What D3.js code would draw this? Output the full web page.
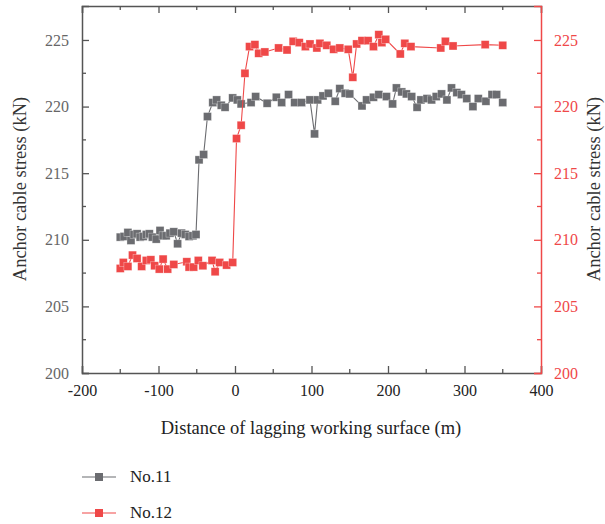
<!DOCTYPE html>
<html>
<head>
<meta charset="utf-8">
<script src="https://cdn.jsdelivr.net/npm/d3@7"></script>
<style>
  body { margin: 0; background: #fff; }
  text { font-family: "Liberation Serif", "DejaVu Serif", serif; }
</style>
</head>
<body>
<svg id="chart" width="605" height="524"></svg>
<script>
// No.11 (left axis)
const n11X = [-150,-145,-140,-136,-132,-128,-124,-120,-116,-112,-108,-103,-98,-94,-90,-85,-80,-75,-70,-65,-60,-55,-51,
  -47,-41,-36,-29,-24,-18,-13,-3,3,8,21,27,42,54,61,70,78,87,98,104,108,115,122,131,137,144,150,
  166,172,181,188,198,206,211,218,224,231,238,243,251,257,263,270,277,283,290,296,303,311,318,328,336,342,350];
const n11Y = [210.2,210.25,210.55,209.95,210.4,210.45,210.2,210.25,210.4,210.45,210.2,210.05,210.7,210.3,210.3,210.5,210.6,209.7,210.5,210.4,210.25,210.3,210.4,
  216.0,216.4,219.25,220.3,220.5,220.1,219.95,220.65,220.5,220.2,220.3,220.75,220.25,220.7,220.3,220.9,220.3,220.3,220.5,217.95,220.5,220.8,221.0,220.4,221.35,221.0,220.95,
  220.05,220.5,220.7,220.9,220.75,220.2,221.4,221.1,220.95,220.75,219.95,220.5,220.6,220.5,220.75,220.95,220.5,221.4,221.05,220.9,220.6,220.0,220.6,220.4,220.9,220.9,220.3];

// No.12 (right axis)
const n12X = [-150,-146,-140,-134,-128,-122,-116,-110,-105,-99,-94,-88,-80,-63,-60,-54,-48,-42,-30,-26,-20,-11,-3,
  2,8,13,19,26,31,39,57,68,76,84,92,98,107,111,120,129,137,148,154,159,166,174,181,188,192,197,216,222,230,269,275,285,327,350];
const n12Y = [207.85,208.3,208.0,208.85,208.6,208.0,208.45,208.5,208.05,207.8,208.55,207.8,208.15,208.35,207.95,207.95,208.45,208.05,208.45,207.6,208.3,208.1,208.3,
  217.6,218.6,222.5,224.5,224.65,224.0,224.1,224.4,224.25,224.9,224.8,224.5,224.7,224.4,224.75,224.6,224.3,224.4,224.3,222.2,224.7,224.95,224.95,224.5,225.4,224.8,225.05,223.95,224.75,224.5,224.4,224.9,224.55,224.65,224.6];

const xTicks = [-200,-100,0,100,200,300,400];
const yTicks = [200,205,210,215,220,225];
const seriesNames = ["No.11","No.12"];

const gray = "#6b6c70", red = "#ef4848", axisGray = "#555";
const serif = "'Liberation Serif', 'DejaVu Serif', serif";
const pLeft = 82, pRight = 541, pTop = 6, pBottom = 373;

const svg = d3.select("#chart");
const x = d3.scaleLinear().domain([-200,400]).range([pLeft,pRight]);
const yL = d3.scaleLinear().domain([200,227.55]).range([pBottom,pTop]);
const yR = d3.scaleLinear().domain([200,227.55]).range([pBottom,pTop]);

const minorX = d3.range(-150,400,100);
const minorY = d3.range(202.5,227.5,5);
const fmt = d => String(d);

// bottom axis
const gB = svg.append("g").attr("transform","translate(0,"+pBottom+")");
gB.call(d3.axisBottom(x).tickValues(xTicks).tickSize(-7).tickPadding(12).tickFormat(fmt));
gB.append("g").selectAll("line").data(minorX).enter().append("line")
  .attr("x1",d=>x(d)).attr("x2",d=>x(d)).attr("y1",0).attr("y2",-4);
// top axis
const gT = svg.append("g").attr("transform","translate(0,"+pTop+")");
gT.call(d3.axisTop(x).tickValues(xTicks).tickSize(-7).tickFormat(""));
gT.append("g").selectAll("line").data(minorX).enter().append("line")
  .attr("x1",d=>x(d)).attr("x2",d=>x(d)).attr("y1",0).attr("y2",4);
// left axis
const gL = svg.append("g").attr("transform","translate("+pLeft+",0)");
gL.call(d3.axisLeft(yL).tickValues(yTicks).tickSize(-7).tickPadding(13).tickFormat(fmt));
gL.append("g").selectAll("line").data(minorY).enter().append("line")
  .attr("y1",d=>yL(d)).attr("y2",d=>yL(d)).attr("x1",0).attr("x2",4);
// right axis
const gR = svg.append("g").attr("transform","translate("+pRight+",0)");
gR.call(d3.axisRight(yR).tickValues(yTicks).tickSize(-7).tickPadding(13).tickFormat(fmt));
gR.append("g").selectAll("line").data(minorY).enter().append("line")
  .attr("y1",d=>yR(d)).attr("y2",d=>yR(d)).attr("x1",0).attr("x2",-4);

[gB,gT,gL,gR].forEach(g=>g.attr("font-family",null).attr("font-size",null));
[gB,gT,gL].forEach(g=>{
  g.selectAll("path,line").attr("stroke",axisGray).attr("stroke-width",1.3);
  g.selectAll("text").attr("fill","#333").style("font-size","16px").style("font-family",serif);
});
gR.selectAll("path,line").attr("stroke",red).attr("stroke-width",1.3);
gR.selectAll("text").attr("fill",red).style("font-size","16px").style("font-family",serif);
gB.selectAll(".tick text").attr("fill","#222");
gL.selectAll(".tick text").attr("fill","#666");
svg.selectAll(".domain").attr("stroke-width",1.5);

// titles
svg.append("text").attr("x",311).attr("y",434).attr("text-anchor","middle")
  .style("font-size","18.5px").attr("fill","#222").text("Distance of lagging working surface (m)");
svg.append("text").attr("transform","translate(26,189) rotate(-90)").attr("text-anchor","middle")
  .style("font-size","18.5px").attr("fill","#333").text("Anchor cable stress (kN)");
svg.append("text").attr("transform","translate(600,189) rotate(-90)").attr("text-anchor","middle")
  .style("font-size","18.5px").attr("fill","#333").text("Anchor cable stress (kN)");

function drawSeries(xs, ys, yScale, color){
  const pts = xs.map((d,i)=>({x:d, y:ys[i]}));
  const line = d3.line().x(d=>x(d.x)).y(d=>yScale(d.y));
  const g = svg.append("g");
  g.append("path").datum(pts).attr("d",line).attr("fill","none")
    .attr("stroke",color).attr("stroke-width",1.1);
  g.selectAll("rect").data(pts).enter().append("rect")
    .attr("x",d=>x(d.x)-4).attr("y",d=>yScale(d.y)-4)
    .attr("width",8).attr("height",8).attr("fill",color)
    .attr("stroke","#fff").attr("stroke-opacity",0.5).attr("stroke-width",0.6);
}
drawSeries(n11X, n11Y, yL, gray);
drawSeries(n12X, n12Y, yR, red);

// legend
const legend = svg.append("g");
[gray, red].forEach((c,i)=>{
  const ly = 477 + i*36;
  legend.append("line").attr("x1",82).attr("x2",116).attr("y1",ly).attr("y2",ly)
    .attr("stroke",c).attr("stroke-width",1.1);
  legend.append("rect").attr("x",95).attr("y",ly-4).attr("width",8).attr("height",8).attr("fill",c);
  legend.append("text").attr("x",130).attr("y",ly+5).style("font-size","17px")
    .attr("fill","#222").text(seriesNames[i]);
});
</script>
</body>
</html>
